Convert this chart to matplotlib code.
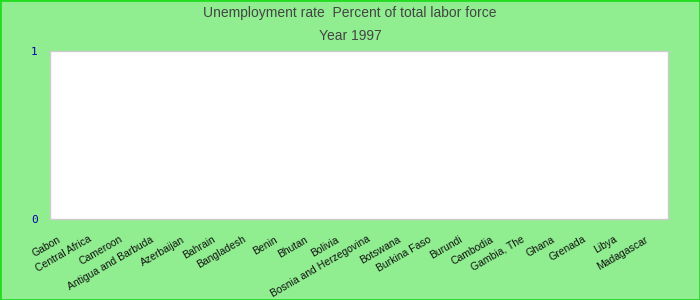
import matplotlib
matplotlib.use("Agg")
import matplotlib.pyplot as plt
import matplotlib.transforms as mtransforms
from matplotlib.patches import Rectangle
import numpy as np

COUNTRIES = [
    "Gabon", "Central Africa", "Cameroon", "Antigua and Barbuda", "Azerbaijan",
    "Bahrain", "Bangladesh", "Benin", "Bhutan", "Bolivia",
    "Bosnia and Herzegovina", "Botswana", "Burkina Faso", "Burundi", "Cambodia",
    "Gambia, The", "Ghana", "Grenada", "Libya", "Madagascar",
]
# no values are drawn in the reference: every bar sits at zero
RATES = [0, 0, 0, 0, 0, 0, 0, 0, 0, 0, 0, 0, 0, 0, 0, 0, 0, 0, 0, 0]
Y_TICKS = [0, 1]

BG = "#90ee90"

plt.rcParams["font.family"] = ["Liberation Sans", "DejaVu Sans"]

fig = plt.figure(figsize=(7, 3), dpi=100, facecolor=BG)
ax = fig.add_axes([50 / 700, 1 - 219 / 300, 618 / 700, 168 / 300])
ax.set_facecolor("white")

x = np.arange(len(COUNTRIES))
ax.bar(x, RATES, width=0.6, color="#4466cc")

ax.set_xlim(-0.5, len(COUNTRIES) - 0.5)
ax.set_ylim(0, 1)
ax.set_yticks(Y_TICKS)
ax.set_yticklabels([str(v) for v in Y_TICKS], color="#0000aa",
                   fontsize=8, family="DejaVu Sans Mono")
ax.set_xticks(x)
ax.set_xticklabels(COUNTRIES, rotation=30, ha="right", va="top",
                   rotation_mode="anchor", fontsize=7.5, color="#111111")
ax.tick_params(axis="both", length=0)
ax.tick_params(axis="y", pad=9)
ax.tick_params(axis="x", pad=11)
# labels sit a few pixels left of the category centre in the reference
shift = mtransforms.ScaledTranslation(-8 / 100, 0, fig.dpi_scale_trans)
for lbl in ax.get_xticklabels():
    lbl.set_transform(lbl.get_transform() + shift)
for s in ax.spines.values():
    s.set_color("#cccccc")
    s.set_linewidth(1)

fig.text(0.5, 1 - 13 / 300, "Unemployment rate  Percent of total labor force",
         ha="center", va="center", fontsize=10, color="#444444")
fig.text(0.5, 1 - 36 / 300, "Year 1997",
         ha="center", va="center", fontsize=10, color="#444444")

fig.patches.append(Rectangle((0, 0), 1, 1, transform=fig.transFigure,
                             fill=False, edgecolor="#22dd22", linewidth=2))

fig.savefig("out.png", dpi=100, facecolor=BG)
